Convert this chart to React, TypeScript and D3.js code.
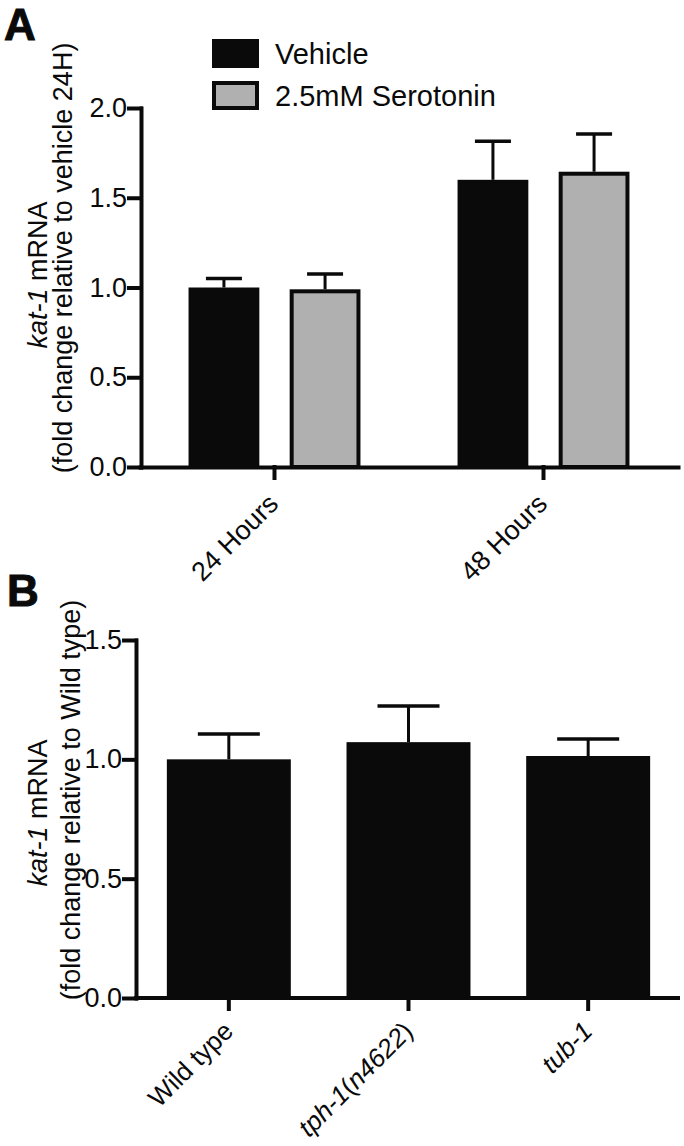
import * as d3 from "d3";
import { useEffect, useRef } from "react";

// panel A: kat-1 mRNA after serotonin treatment
const timepoints = ["24 Hours", "48 Hours"];
const treatments = ["Vehicle", "2.5mM Serotonin"];
const vehicleMean = [1.0, 1.6];
const vehicleSem = [0.05, 0.215];
const serotoninMean = [0.99, 1.645];
const serotoninSem = [0.085, 0.21];
const yTicksA = [0, 0.5, 1.0, 1.5, 2.0];

// panel B: kat-1 mRNA in mutants
const genotypes = ["Wild type", "tph-1(n4622)", "tub-1"];
const genotypeMean = [1.0, 1.072, 1.014];
const genotypeSem = [0.106, 0.151, 0.071];
const yTicksB = [0, 0.5, 1.0, 1.5];

const FONT = "'Liberation Sans', Arial, Helvetica, sans-serif";
const BLACK = "#0a0a0a";
const GREY = "#b0b0b0";

function App() {
  const svgRef = useRef<SVGSVGElement>(null);

  useEffect(() => {
    const svg = d3.select(svgRef.current);
    svg.selectAll("*").remove();

    // ---------- panel A ----------
    const yA = d3.scaleLinear().domain([0, 2]).range([467, 108]);
    const xA = d3.scaleBand<string>().domain(timepoints).range([140, 678]);
    const xSub = d3
      .scaleBand<string>()
      .domain(treatments)
      .range([0, xA.bandwidth()])
      .paddingInner(0.3)
      .paddingOuter(0.48);

    const rowsA = timepoints.flatMap((t, i) => [
      { t, s: treatments[0], mean: vehicleMean[i], sem: vehicleSem[i] },
      { t, s: treatments[1], mean: serotoninMean[i], sem: serotoninSem[i] },
    ]);

    const gA = svg.append("g");
    rowsA.forEach((d) => {
      const x0 = xA(d.t)! + xSub(d.s)!;
      const w = xSub.bandwidth();
      const cx = x0 + w / 2;
      // error bar
      gA.append("line")
        .attr("x1", cx).attr("x2", cx)
        .attr("y1", yA(d.mean)).attr("y2", yA(d.mean + d.sem))
        .attr("stroke", BLACK).attr("stroke-width", 3);
      gA.append("line")
        .attr("x1", cx - 18).attr("x2", cx + 18)
        .attr("y1", yA(d.mean + d.sem)).attr("y2", yA(d.mean + d.sem))
        .attr("stroke", BLACK).attr("stroke-width", 3.5);
      if (d.s === treatments[0]) {
        gA.append("rect")
          .attr("x", x0).attr("width", w)
          .attr("y", yA(d.mean)).attr("height", yA(0) - yA(d.mean))
          .attr("fill", BLACK);
      } else {
        gA.append("rect")
          .attr("x", x0 + 2).attr("width", w - 4)
          .attr("y", yA(d.mean) + 2).attr("height", yA(0) - yA(d.mean) - 2)
          .attr("fill", GREY).attr("stroke", BLACK).attr("stroke-width", 4);
      }
    });

    const yAxisA = d3.axisLeft(yA).tickValues(yTicksA).tickFormat(d3.format(".1f"))
      .tickSize(12).tickPadding(2).tickSizeOuter(0);
    svg.append("g").attr("transform", "translate(141,0)").call(yAxisA);
    const xAxisA = d3.axisBottom(xA).tickSize(11).tickSizeOuter(0).tickFormat(() => "");
    svg.append("g").attr("transform", `translate(0,${yA(0)})`).call(xAxisA);

    timepoints.forEach((t) => {
      const cx = xA(t)! + xA.bandwidth() / 2;
      svg.append("text")
        .attr("transform", `translate(${cx - 8},${yA(0) + 25}) rotate(-45)`)
        .attr("text-anchor", "end")
        .attr("dy", "0.7em")
        .attr("font-size", 27)
        .text(t);
    });

    // legend
    const leg = svg.append("g");
    treatments.forEach((s, i) => {
      const y = 39 + i * 42;
      if (i === 0) {
        leg.append("rect").attr("x", 212).attr("y", y).attr("width", 47).attr("height", 29)
          .attr("fill", BLACK);
      } else {
        leg.append("rect").attr("x", 214).attr("y", y + 2).attr("width", 43).attr("height", 25)
          .attr("fill", GREY).attr("stroke", BLACK).attr("stroke-width", 4);
      }
      leg.append("text").attr("x", 275).attr("y", y + 25).attr("font-size", 29).text(s);
    });

    // y label A
    const labA = svg.append("g").attr("transform", "translate(47,275) rotate(-90)");
    const l1 = labA.append("text").attr("text-anchor", "middle").attr("font-size", 27);
    l1.append("tspan").attr("font-style", "italic").text("kat-1");
    l1.append("tspan").text(" mRNA");
    svg.append("text")
      .attr("transform", "translate(72,258) rotate(-90)")
      .attr("text-anchor", "middle").attr("font-size", 27)
      .text("(fold change relative to vehicle 24H)");

    // ---------- panel B ----------
    const yB = d3.scaleLinear().domain([0, 1.5]).range([998, 640]);
    const xB = d3.scaleBand<string>().domain(genotypes).range([139, 678])
      .paddingInner(0.31).paddingOuter(0.155);

    genotypes.forEach((g, i) => {
      const x0 = xB(g)!;
      const w = xB.bandwidth();
      const cx = x0 + w / 2;
      const top = yB(genotypeMean[i] + genotypeSem[i]);
      svg.append("line")
        .attr("x1", cx).attr("x2", cx)
        .attr("y1", yB(genotypeMean[i])).attr("y2", top)
        .attr("stroke", BLACK).attr("stroke-width", 3);
      svg.append("line")
        .attr("x1", cx - 31).attr("x2", cx + 31)
        .attr("y1", top).attr("y2", top)
        .attr("stroke", BLACK).attr("stroke-width", 3.5);
      svg.append("rect")
        .attr("x", x0).attr("width", w)
        .attr("y", yB(genotypeMean[i])).attr("height", yB(0) - yB(genotypeMean[i]))
        .attr("fill", BLACK);
    });

    const yAxisB = d3.axisLeft(yB).tickValues(yTicksB).tickFormat(d3.format(".1f"))
      .tickSize(12).tickPadding(2).tickSizeOuter(0);
    svg.append("g").attr("transform", "translate(136,0)").call(yAxisB);
    const xAxisB = d3.axisBottom(xB).tickSize(11).tickSizeOuter(0).tickFormat(() => "");
    const gxB = svg.append("g").attr("transform", `translate(0,${yB(0)})`).call(xAxisB);
    gxB.select(".domain").attr("d", `M136,0H678`);

    const italicParts: Record<string, [string, boolean][]> = {
      "Wild type": [["Wild type", false]],
      "tph-1(n4622)": [["tph-1", true], ["(", false], ["n4622", true], [")", false]],
      "tub-1": [["tub-1", true]],
    };
    genotypes.forEach((g) => {
      const cx = xB(g)! + xB.bandwidth() / 2;
      const t = svg.append("text")
        .attr("transform", `translate(${cx - 7},${yB(0) + 22}) rotate(-45)`)
        .attr("text-anchor", "end")
        .attr("dy", "0.7em")
        .attr("font-size", 26);
      italicParts[g].forEach(([s, it]) => {
        t.append("tspan").attr("font-style", it ? "italic" : "normal").text(s);
      });
    });

    const labB = svg.append("g").attr("transform", "translate(47,813) rotate(-90)");
    const b1 = labB.append("text").attr("text-anchor", "middle").attr("font-size", 27);
    b1.append("tspan").attr("font-style", "italic").text("kat-1");
    b1.append("tspan").text(" mRNA");
    svg.append("text")
      .attr("transform", "translate(80,800) rotate(-90)")
      .attr("text-anchor", "middle").attr("font-size", 27)
      .text("(fold change relative to Wild type)");

    // axis styling
    svg.selectAll(".domain, .tick line")
      .attr("stroke", BLACK).attr("stroke-width", 4).attr("stroke-linecap", "square");
    svg.selectAll(".tick text").attr("font-size", 27).attr("fill", BLACK).attr("font-family", FONT);

    // panel letters
    svg.append("text").attr("x", 4).attr("y", 40).attr("font-size", 44)
      .attr("font-weight", "bold").attr("stroke", BLACK).attr("stroke-width", 1).text("A");
    svg.append("text").attr("x", 7).attr("y", 606).attr("font-size", 44)
      .attr("font-weight", "bold").attr("stroke", BLACK).attr("stroke-width", 1).text("B");
  }, []);

  return (
    <svg
      ref={svgRef}
      width={684}
      height={1146}
      style={{ position: "absolute", left: 0, top: 0, background: "#fff" }}
      fontFamily={FONT}
      fill={BLACK}
    />
  );
}

export default App;
